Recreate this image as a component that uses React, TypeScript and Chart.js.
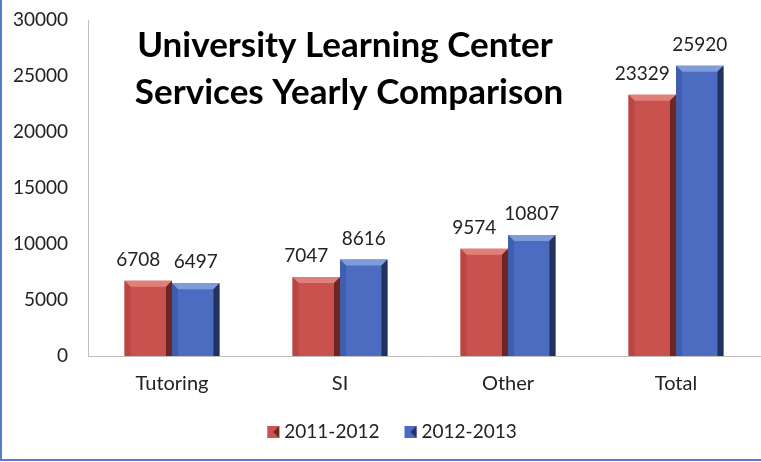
import React, { useEffect, useRef } from "react";
import { Chart, registerables } from "chart.js";

Chart.register(...registerables);

const categories = ["Tutoring", "SI", "Other", "Total"];
const series2011 = [6708, 7047, 9574, 23329];
const series2012 = [6497, 8616, 10807, 25920];
const seriesNames = ["2011-2012", "2012-2013"];
const titleLines = ["University Learning Center", "Services Yearly Comparison"];
const yMin = 0;
const yMax = 30000;
const yStep = 5000;

const FONT = "Lato, 'Open Sans', sans-serif";

const faces = ["#C9514E", "#4B6CC1"];
const tops = ["#E0807B", "#7E9BDA"];
const rights = ["#6E2624", "#22335F"];
const lefts = ["#B84644", "#3F5EAD"];
const labelShift = [-10, 0];

const bevelPlugin = {
  id: "bevel",
  afterDatasetsDraw(chart: any) {
    const ctx = chart.ctx;
    chart.data.datasets.forEach((ds: any, di: number) => {
      const meta = chart.getDatasetMeta(di);
      meta.data.forEach((bar: any) => {
        const w = bar.width;
        const l = bar.x - w / 2;
        const r = bar.x + w / 2;
        const t = bar.y;
        const b = bar.base;
        const e = 6;
        ctx.save();
        ctx.fillStyle = tops[di];
        ctx.beginPath();
        ctx.moveTo(l, t);
        ctx.lineTo(r, t);
        ctx.lineTo(r - e, t + e);
        ctx.lineTo(l + e, t + e);
        ctx.closePath();
        ctx.fill();
        ctx.fillStyle = rights[di];
        ctx.beginPath();
        ctx.moveTo(r, t);
        ctx.lineTo(r, b);
        ctx.lineTo(r - e, b);
        ctx.lineTo(r - e, t + e);
        ctx.closePath();
        ctx.fill();
        ctx.fillStyle = lefts[di];
        ctx.beginPath();
        ctx.moveTo(l, t);
        ctx.lineTo(l + e, t + e);
        ctx.lineTo(l + e, b);
        ctx.lineTo(l, b);
        ctx.closePath();
        ctx.fill();
        ctx.restore();
      });
    });
  },
};

const labelsPlugin = {
  id: "valueLabels",
  afterDatasetsDraw(chart: any) {
    const ctx = chart.ctx;
    ctx.save();
    ctx.font = `19px ${FONT}`;
    ctx.fillStyle = "#222";
    ctx.textAlign = "center";
    ctx.textBaseline = "middle";
    chart.data.datasets.forEach((ds: any, di: number) => {
      const meta = chart.getDatasetMeta(di);
      meta.data.forEach((bar: any, i: number) => {
        ctx.fillText(String(ds.data[i]), bar.x + labelShift[di], bar.y - 21);
      });
    });
    ctx.restore();
  },
};

const titlePlugin = {
  id: "innerTitle",
  afterDraw(chart: any) {
    const ctx = chart.ctx;
    ctx.save();
    ctx.font = `bold 35px ${FONT}`;
    ctx.fillStyle = "#000";
    ctx.textAlign = "center";
    ctx.textBaseline = "middle";
    ctx.fillText(titleLines[0], 345, 46, 422);
    ctx.fillText(titleLines[1], 349, 93, 436);
    ctx.restore();
  },
};

const legendPlugin = {
  id: "customLegend",
  afterDraw(chart: any) {
    const ctx = chart.ctx;
    ctx.save();
    ctx.font = `19px ${FONT}`;
    ctx.textBaseline = "middle";
    ctx.textAlign = "left";
    const names = chart.data.datasets.map((d: any) => d.label);
    const box = 12;
    const gapBox = 5;
    const gapItem = 25;
    const widths = names.map((n: string) => ctx.measureText(n).width);
    let total = 0;
    widths.forEach((w: number, i: number) => {
      total += box + gapBox + w + (i < widths.length - 1 ? gapItem : 0);
    });
    let x = 392 - total / 2;
    const y = 432;
    names.forEach((n: string, i: number) => {
      ctx.fillStyle = faces[i];
      ctx.fillRect(x, y - box / 2, box, box);
      ctx.fillStyle = rights[i];
      ctx.beginPath();
      ctx.moveTo(x + box, y - box / 2);
      ctx.lineTo(x + box, y + box / 2);
      ctx.lineTo(x + box / 2, y);
      ctx.closePath();
      ctx.fill();
      ctx.fillStyle = "#222";
      ctx.fillText(n, x + box + gapBox, y);
      x += box + gapBox + widths[i] + gapItem;
    });
    ctx.restore();
  },
};

const framePlugin = {
  id: "frame",
  afterDraw(chart: any) {
    const ctx = chart.ctx;
    ctx.save();
    ctx.fillStyle = "#5A7BCB";
    ctx.fillRect(0, 0, 2, 461);
    ctx.fillRect(0, 459, 761, 2);
    ctx.restore();
  },
};

export default function App() {
  const ref = useRef<HTMLCanvasElement | null>(null);
  useEffect(() => {
    document.body.style.margin = "0";
    const canvas = ref.current!;
    const chart = new Chart(canvas, {
      type: "bar",
      data: {
        labels: categories,
        datasets: [
          { label: seriesNames[0], data: series2011, backgroundColor: faces[0] },
          { label: seriesNames[1], data: series2012, backgroundColor: faces[1] },
        ],
      },
      options: {
        responsive: false,
        animation: false,
        layout: { padding: { top: 20, right: 1, left: 0, bottom: 59 } },
        datasets: {
          bar: { barPercentage: 1, categoryPercentage: 0.565 },
        } as any,
        scales: {
          x: {
            grid: { display: false, drawTicks: false },
            border: { display: true, color: "#BDBDBD", width: 1 },
            ticks: { font: { family: FONT, size: 20 }, color: "#222", padding: 16 },
            afterFit: (s: any) => {
              s.height = 47;
              s.paddingLeft = 0;
              s.paddingRight = 0;
            },
          },
          y: {
            min: yMin,
            max: yMax,
            grid: { display: false, drawTicks: false },
            border: { display: true, color: "#BDBDBD", width: 1 },
            ticks: {
              stepSize: yStep,
              font: { family: FONT, size: 19 },
              color: "#222",
              padding: 20,
              callback: (v: any) => String(v),
            },
            afterFit: (s: any) => {
              s.width = 88;
              s.paddingTop = 0;
              s.paddingBottom = 0;
            },
          },
        },
        plugins: {
          legend: { display: false },
          title: { display: false },
          tooltip: { enabled: false },
        },
      },
      plugins: [bevelPlugin, labelsPlugin, titlePlugin, legendPlugin, framePlugin],
    });
    return () => chart.destroy();
  }, []);
  return (
    <div style={{ width: 761, height: 462 }}>
      <canvas ref={ref} width={761} height={462} style={{ display: "block" }} />
    </div>
  );
}
